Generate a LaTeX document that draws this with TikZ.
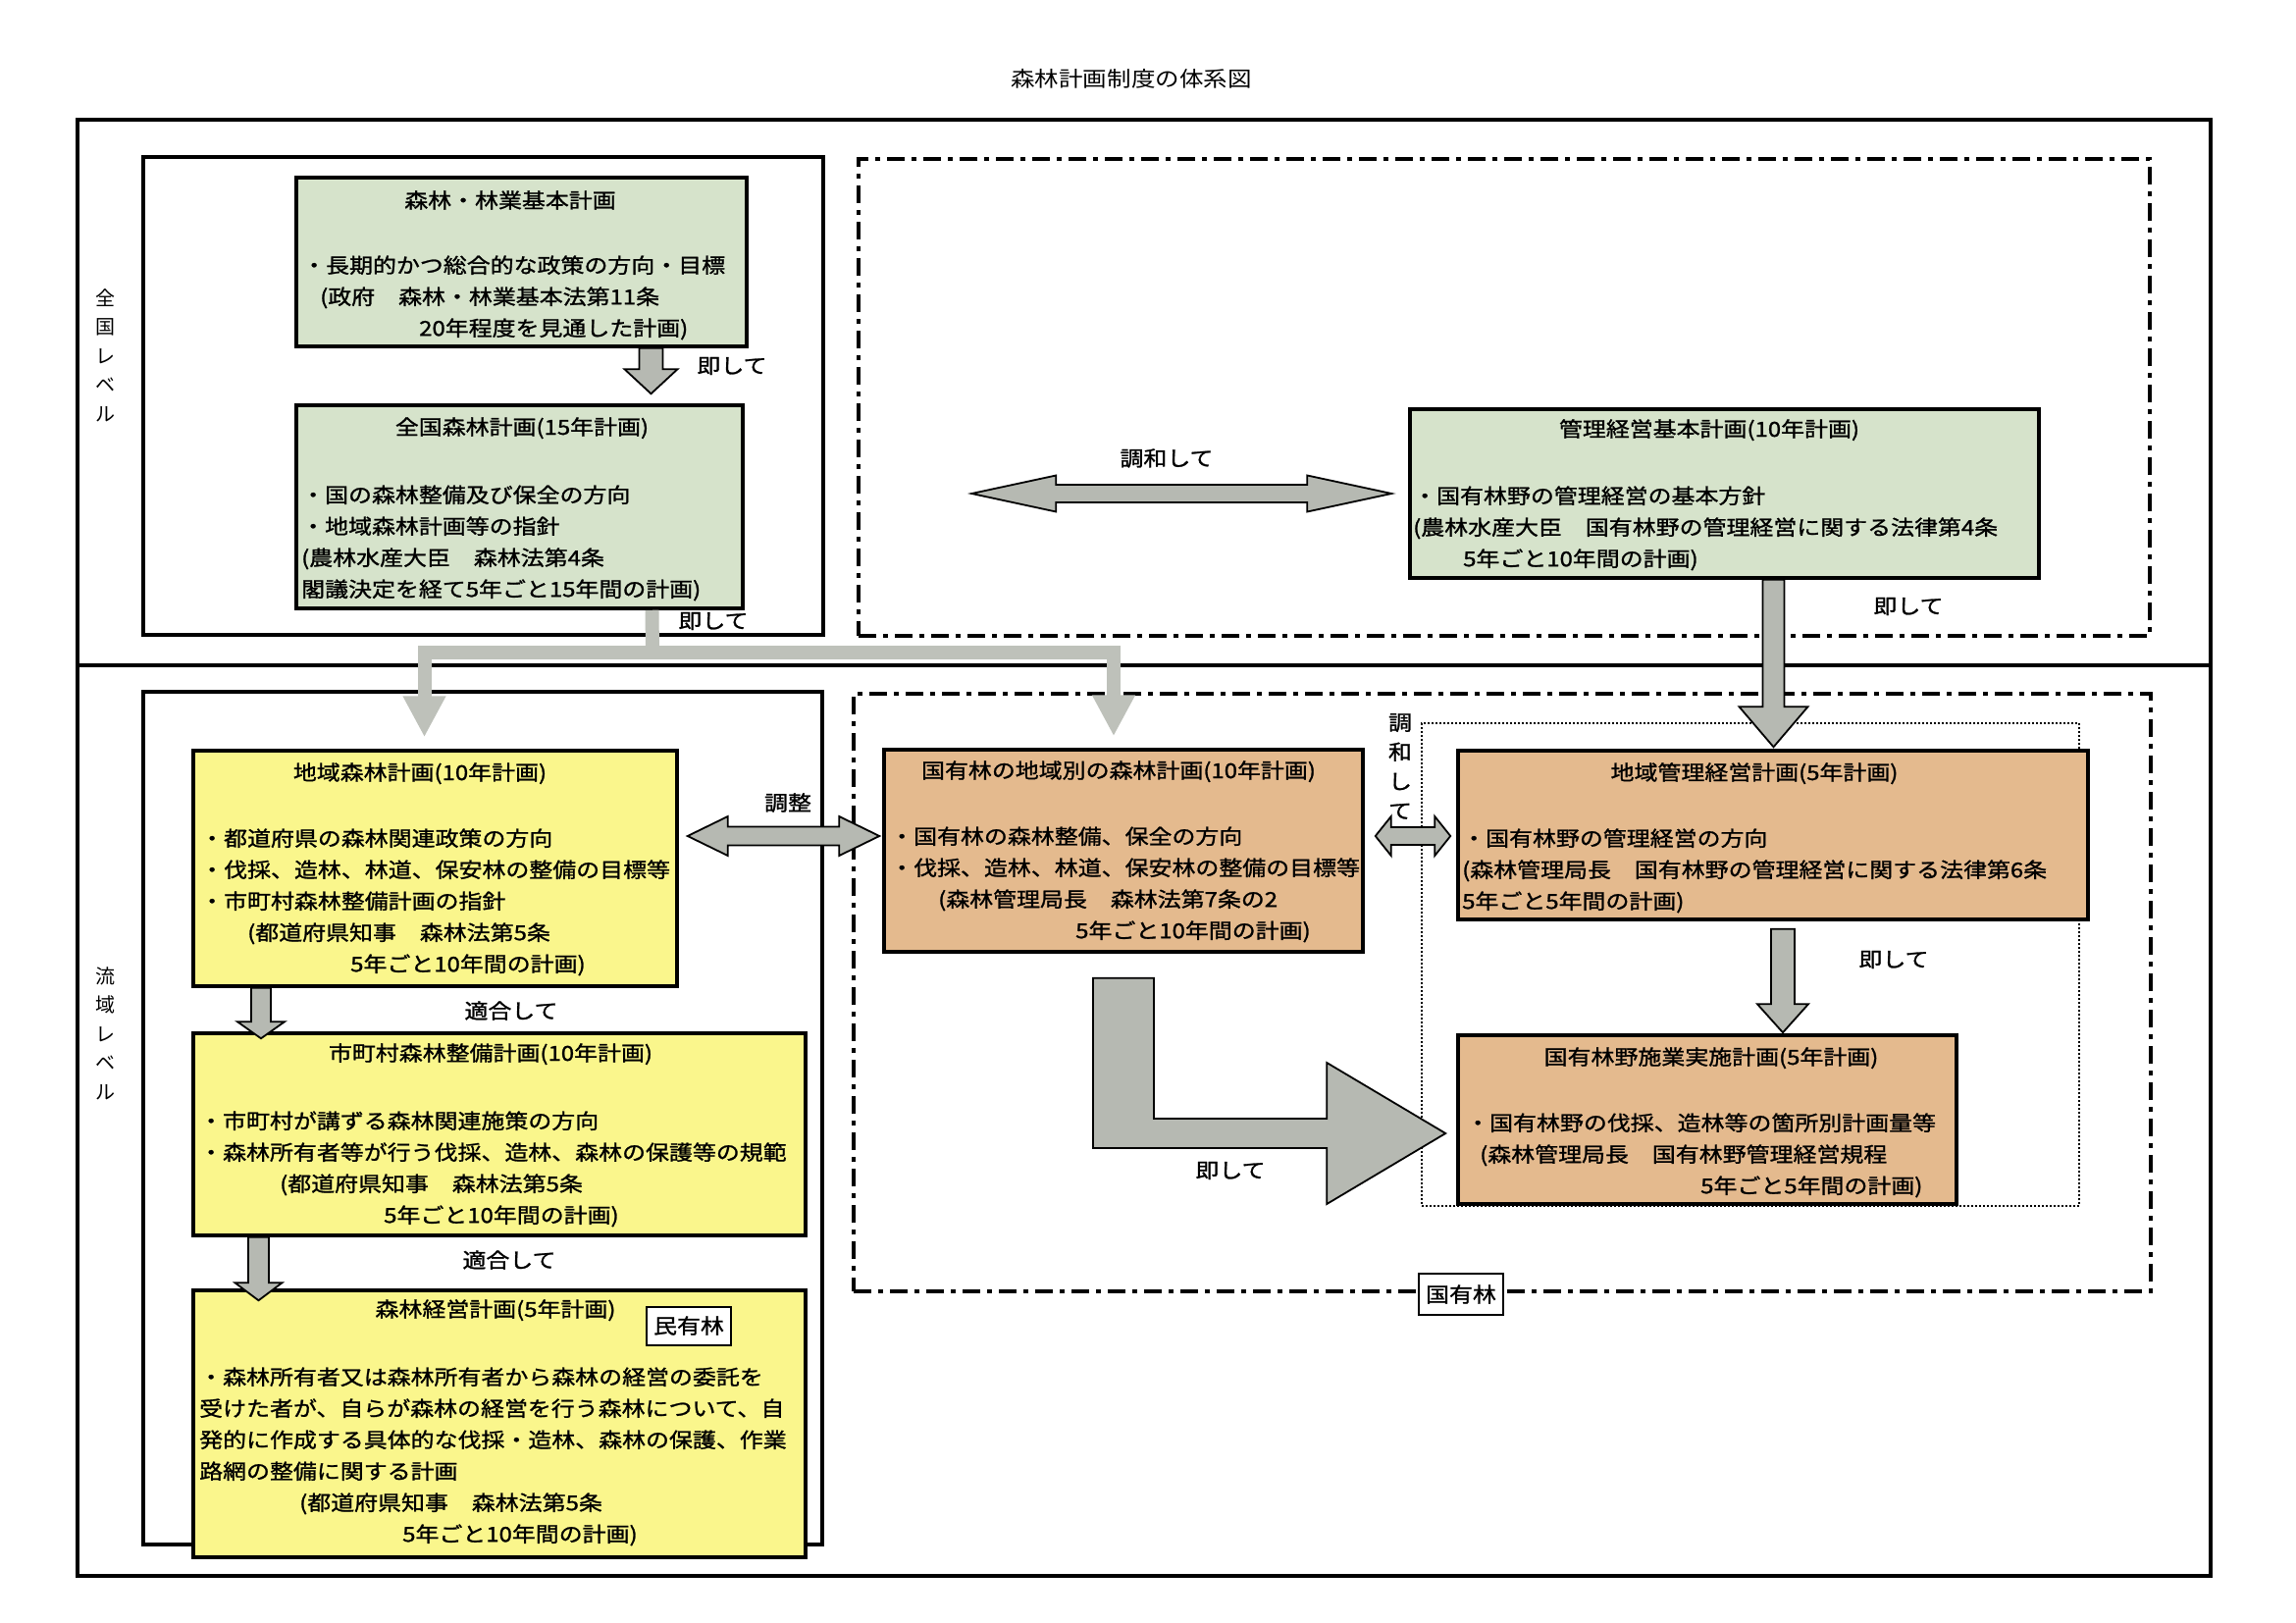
\documentclass[tikz,border=0pt]{standalone}
\usepackage{fontspec}
\setmainfont{Noto Sans CJK JP}[FakeStretch=1.14, FakeBold=1.2]
\newfontfamily\titlefont{Noto Sans CJK JP}[FakeStretch=1.14]
\newfontfamily\sidefont{Noto Sans CJK JP}
\usetikzlibrary{arrows.meta,calc,fit}

\definecolor{plangreen}{RGB}{214,227,203}
\definecolor{planyellow}{RGB}{250,246,140}
\definecolor{planorange}{RGB}{228,186,142}
\definecolor{arrowgray}{RGB}{182,185,178}
\definecolor{feedgray}{RGB}{190,193,186}

\newcommand\planfont{\fontsize{21}{32}\selectfont}
\newcommand\topstrut{\rule{0pt}{20pt}}

% block arrow pointing down: start, tip, half shaft, half head, head length
\newcommand\downblock[5]{%
  \draw[blockarrow] let \p1=(#1), \p2=(#2) in
    (\x1-#3pt,\y1) -- (\x1+#3pt,\y1) -- (\x1+#3pt,\y2+#5pt) -- (\x1+#4pt,\y2+#5pt)
    -- (\x1,\y2) -- (\x1-#4pt,\y2+#5pt) -- (\x1-#3pt,\y2+#5pt) -- cycle;}
% block arrow with two heads: left tip, right tip, half shaft, half head, head length
\newcommand\twoblock[5]{%
  \draw[blockarrow] let \p1=(#1), \p2=(#2) in
    (\x1,\y1) -- (\x1+#5pt,\y1+#4pt) -- (\x1+#5pt,\y1+#3pt) -- (\x2-#5pt,\y1+#3pt)
    -- (\x2-#5pt,\y1+#4pt) -- (\x2,\y1) -- (\x2-#5pt,\y1-#4pt) -- (\x2-#5pt,\y1-#3pt)
    -- (\x1+#5pt,\y1-#3pt) -- (\x1+#5pt,\y1-#4pt) -- cycle;}

\begin{document}
\begin{tikzpicture}[x=1pt, y=-1pt,
  frame/.style={draw, line width=3.5pt, inner sep=0pt},
  dashframe/.style={frame, dash pattern=on 18pt off 7pt on 5pt off 7pt},
  dotframe/.style={draw, line width=2pt, dash pattern=on 2pt off 2pt, inner sep=0pt},
  plan/.style={draw, line width=3.5pt, inner sep=0pt},
  greenplan/.style={plan, fill=plangreen},
  yellowplan/.style={plan, fill=planyellow},
  orangeplan/.style={plan, fill=planorange},
  ttl/.style={anchor=base, inner sep=0pt, font=\planfont},
  body/.style={anchor=north west, align=left, inner sep=0pt, font=\planfont},
  lbl/.style={inner sep=0pt, font=\planfont},
  vlbl/.style={align=center, inner sep=0pt, font=\fontsize{21}{30}\selectfont},
  tag/.style={draw, line width=2pt, fill=white, inner sep=0pt, minimum width=86pt, minimum height=40pt, font=\planfont},
  side/.style={align=center, inner sep=0pt, font=\sidefont\fontsize{20}{29.5}\selectfont},
  feed/.style={draw=feedgray, line width=14pt, -{Triangle[length=42pt,width=41pt]}},
  blockarrow/.style={draw, line width=1.8pt, fill=arrowgray, line join=miter}
]
\useasboundingbox (0,0) rectangle (2340,1654);

\node[lbl, font=\titlefont\fontsize{21.5}{26}\selectfont] (title) at (1153,80) {森林計画制度の体系図};

% frames
\node[frame, fit={(79,122) (2253,1606)}] (outer) {};
\draw[frame] (79,678) -- (2253,678);
\node[frame, fit={(146,160) (839,647)}] (kuniwaku) {};
\node[dashframe, fit={(875,162) (2191,648)}] (kunikokuyu) {};
\node[frame, fit={(146,705) (838,1574)}] (ryuikiwaku) {};
\node[dashframe, fit={(870,707) (2192,1316)}] (kokuyuwaku) {};
\node[dotframe, fit={(1449,737) (2119,1229)}] (kanriwaku) {};

\node[side] (zenkokulv) at (107,362) {全\\国\\レ\\ベ\\ル};
\node[side] (ryuikilv) at (107,1053) {流\\域\\レ\\ベ\\ル};

% national level
\node[greenplan, fit={(302,181) (761,353)}] (kihon) {};
\node[ttl] (kihonT) at (520,212) {森林・林業基本計画};
\node[body] (kihonB) at (308,258) {\topstrut・長期的かつ総合的な政策の方向・目標\\
  \hspace*{18pt}(政府　森林・林業基本法第11条\\
  \hspace*{119pt}20年程度を見通した計画)};

\node[greenplan, fit={(302,413) (757,620)}] (zenkoku) {};
\node[ttl] (zenkokuT) at (532,443) {全国森林計画(15年計画)};
\node[body] (zenkokuB) at (307,492) {\topstrut・国の森林整備及び保全の方向\\
  ・地域森林計画等の指針\\
  (農林水産大臣　森林法第4条\\
  閣議決定を経て5年ごと15年間の計画)};

\node[greenplan, fit={(1437,417) (2078,589)}] (kanri) {};
\node[ttl] (kanriT) at (1742,445) {管理経営基本計画(10年計画)};
\node[body] (kanriB) at (1440,493) {\topstrut・国有林野の管理経営の基本方針\\
  (農林水産大臣　国有林野の管理経営に関する法律第4条\\
  \hspace*{51pt}5年ごと10年間の計画)};

% basin level, private forest
\node[yellowplan, fit={(197,765) (690,1005)}] (chiiki) {};
\node[ttl] (chiikiT) at (428,795) {地域森林計画(10年計画)};
\node[body] (chiikiB) at (204,842) {\topstrut・都道府県の森林関連政策の方向\\
  ・伐採、造林、林道、保安林の整備の目標等\\
  ・市町村森林整備計画の指針\\
  \hspace*{48pt}(都道府県知事　森林法第5条\\
  \hspace*{153pt}5年ごと10年間の計画)};

\node[yellowplan, fit={(197,1053) (821,1259)}] (shichoson) {};
\node[ttl] (shichosonT) at (500,1081) {市町村森林整備計画(10年計画)};
\node[body] (shichosonB) at (203,1130) {\topstrut・市町村が講ずる森林関連施策の方向\\
  ・森林所有者等が行う伐採、造林、森林の保護等の規範\\
  \hspace*{82pt}(都道府県知事　森林法第5条\\
  \hspace*{188pt}5年ごと10年間の計画)};

\node[yellowplan, fit={(197,1315) (821,1587)}] (keiei) {};
\node[ttl] (keieiT) at (505,1342) {森林経営計画(5年計画)};
\node[tag, minimum height=39pt] (minyu) at (702,1351) {民有林};
\node[body] (keieiB) at (203,1391) {\topstrut・森林所有者又は森林所有者から森林の経営の委託を\\
  受けた者が、自らが森林の経営を行う森林について、自\\
  発的に作成する具体的な伐採・造林、森林の保護、作業\\
  路網の整備に関する計画\\
  \hspace*{102pt}(都道府県知事　森林法第5条\\
  \hspace*{207pt}5年ごと10年間の計画)};

% basin level, national forest
\node[orangeplan, fit={(901,764) (1389,970)}] (kokuyu) {};
\node[ttl] (kokuyuT) at (1140,793) {国有林の地域別の森林計画(10年計画)};
\node[body] (kokuyuB) at (907,840) {\topstrut・国有林の森林整備、保全の方向\\
  ・伐採、造林、林道、保安林の整備の目標等\\
  \hspace*{49pt}(森林管理局長　森林法第7条の2\\
  \hspace*{189pt}5年ごと10年間の計画)};

\node[orangeplan, fit={(1486,765) (2128,937)}] (chiikikanri) {};
\node[ttl] (chiikikanriT) at (1788,795) {地域管理経営計画(5年計画)};
\node[body] (chiikikanriB) at (1490,842) {\topstrut・国有林野の管理経営の方向\\
  (森林管理局長　国有林野の管理経営に関する法律第6条\\
  5年ごと5年間の計画)};

\node[orangeplan, fit={(1486,1055) (1994,1227)}] (sekyo) {};
\node[ttl] (sekyoT) at (1744,1085) {国有林野施業実施計画(5年計画)};
\node[body] (sekyoB) at (1494,1132) {\topstrut・国有林野の伐採、造林等の箇所別計画量等\\
  \hspace*{14pt}(森林管理局長　国有林野管理経営規程\\
  \hspace*{239pt}5年ごと5年間の計画)};

\node[tag, minimum height=42pt] (kokuyutag) at (1489,1319) {国有林};

% connectors
\coordinate (split) at (665,665);
\draw[feed, -] ([xshift=135pt]zenkoku.south) -- (split);
\draw[feed] (split) -| ([xshift=-11pt,yshift=12pt]chiiki.north);
\draw[feed] (split) -| ([xshift=-10pt,yshift=12pt]kokuyu.north);

\downblock{[xshift=132pt]kihon.south}{[yshift=10pt]zenkoku.north}{12}{27}{25}
\downblock{[xshift=50pt]kanri.south}{[yshift=2pt]chiikikanri.north}{11}{35}{41}
\downblock{[xshift=10pt,yshift=-8pt]chiikikanri.south}{[yshift=1pt]sekyo.north}{12}{26}{29}
\downblock{[xshift=-177.5pt]chiiki.south}{[yshift=-7pt]shichoson.north}{10}{24}{17}
\downblock{[xshift=-245.5pt]shichoson.south}{[yshift=-12pt]keiei.north}{10.5}{24}{18}

\twoblock{$(kunikokuyu.west |- kanri.west)+(117,0)$}{[xshift=-17pt]kanri.west}{9}{18.5}{86}
\twoblock{$(chiiki.east)+(9,-33)$}{$(kokuyu.west)+(-3,-33)$}{9.5}{20}{41}
\twoblock{$(kokuyu.east)+(11,-15)$}{$(chiikikanri.west)+(-6,-15)$}{9}{20}{16}

\draw[blockarrow] let \p1=([yshift=-25pt]kokuyu.south), \p2=($(sekyo.west)+(-11,14)$) in
  (\x1-31pt,\y1) -- (\x1+31pt,\y1) -- (\x1+31pt,\y2+15pt) -- (\x2-121pt,\y2+15pt)
  -- (\x2-121pt,\y2+72pt) -- (\x2,\y2) -- (\x2-121pt,\y2-72pt) -- (\x2-121pt,\y2-15pt)
  -- (\x1-31pt,\y2-15pt) -- cycle;

% labels
\node[lbl] (soku1) at (746,373) {即して};
\node[lbl] (soku2) at (727,633) {即して};
\node[lbl] (chowa1) at (1189,467) {調和して};
\node[lbl] (soku3) at (1945,618) {即して};
\node[lbl] (chosei) at (803,818) {調整};
\node[vlbl] (chowa2) at (1427,781) {調\\和\\し\\て};
\node[lbl] (soku4) at (1930,978) {即して};
\node[lbl] (soku5) at (1254,1193) {即して};
\node[lbl] (tekigo1) at (521,1030) {適合して};
\node[lbl] (tekigo2) at (519,1284) {適合して};
\end{tikzpicture}
\end{document}
